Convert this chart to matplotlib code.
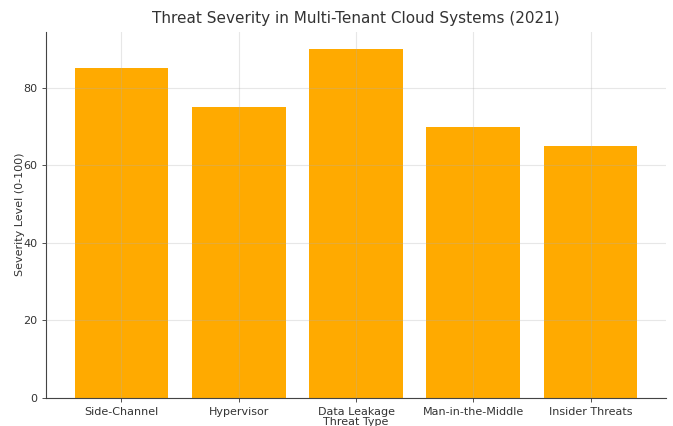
import matplotlib.pyplot as plt

# Data
threats = ["Side-Channel", "Hypervisor", "Data Leakage", "Man-in-the-Middle", "Insider Threats"]
severity = [85, 75, 90, 70, 65]

fig = plt.figure(figsize=(6.73, 4.26), dpi=100)
ax = fig.add_axes([0.069, 0.066, 0.920, 0.860])

ax.bar(threats, severity, color="#FFAA00", width=0.8, zorder=1)
ax.grid(True, color="#b0b0b0", linewidth=0.8, alpha=0.3, zorder=2)
ax.set_axisbelow(False)

ax.set_xlim(-0.64, 4.64)
ax.set_ylim(0, 94.5)
ax.set_yticks([0, 20, 40, 60, 80])

for s in ["top", "right"]:
    ax.spines[s].set_visible(False)
for s in ["left", "bottom"]:
    ax.spines[s].set_color("#444444")
    ax.spines[s].set_linewidth(0.8)

ax.tick_params(labelsize=8, colors="#333333", length=3, width=0.6)
ax.set_title("Threat Severity in Multi-Tenant Cloud Systems (2021)", fontsize=11, color="#333333", pad=6)
ax.set_xlabel("Threat Type", fontsize=8, color="#333333", labelpad=0)
ax.set_ylabel("Severity Level (0-100)", fontsize=8, color="#333333")
ax.yaxis.set_label_coords(-0.035, 0.5)

fig.savefig("out.png", dpi=100)
